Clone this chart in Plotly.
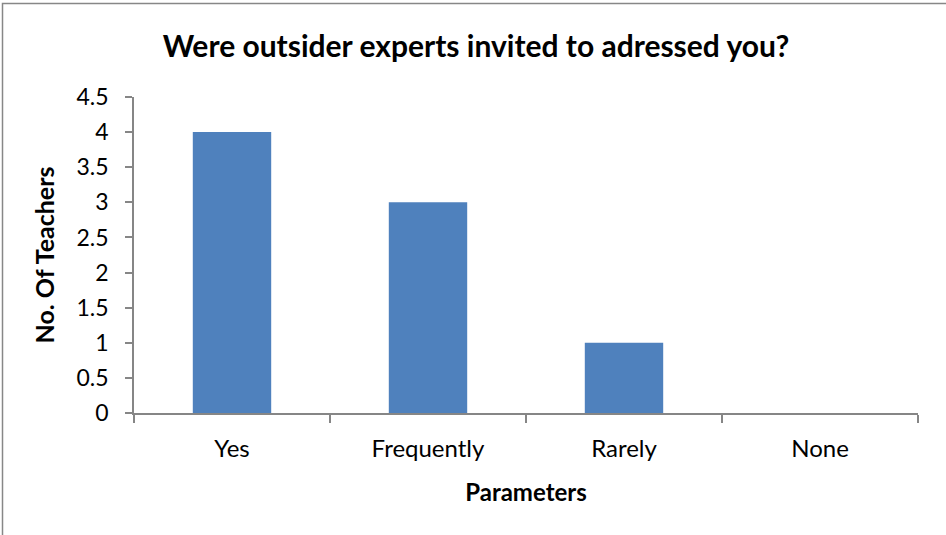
import plotly.graph_objects as go

categories = ["Yes", "Frequently", "Rarely", "None"]
teachers = [4, 3, 1, 0]
y_ticks = [0, 0.5, 1, 1.5, 2, 2.5, 3, 3.5, 4, 4.5]
y_tick_labels = ["0", "0.5", "1", "1.5", "2", "2.5", "3", "3.5", "4", "4.5"]

W, H = 946, 535
L, R, T, B = 134, 28, 97, 122
pw, ph = W - L - R, H - T - B

FONT = "Lato, 'Open Sans', sans-serif"
AXIS_COLOR = "#868686"

fig = go.Figure(go.Bar(
    x=categories, y=teachers,
    marker=dict(color="#4F81BD", line=dict(width=0)),
    width=0.4,
))

def px_to_paper_x(px):
    return (px - L) / pw

def px_to_paper_y(py):
    return (H - B - py) / ph

fig.update_layout(
    width=W, height=H,
    margin=dict(l=L, r=R, t=T, b=B),
    paper_bgcolor="white", plot_bgcolor="white",
    showlegend=False,
    title=dict(text="<b>Were outsider experts invited to adressed you?</b>",
               x=476 / W, xref="container", xanchor="center",
               y=1 - 46 / H, yref="container", yanchor="middle",
               font=dict(family=FONT, size=30, color="black")),
    font=dict(family=FONT, color="black"),
    xaxis=dict(
        type="category", range=[-0.5, 3.5],
        showline=True, linecolor=AXIS_COLOR, linewidth=1.5,
        ticks="outside", tickson="boundaries", ticklen=8, tickcolor=AXIS_COLOR, tickwidth=1.5,
        showgrid=False, zeroline=False,
        tickfont=dict(family=FONT, size=24, color="black"),
        ticklabelstandoff=13,
        title=dict(text="<b>Parameters</b>", font=dict(family=FONT, size=24, color="black"), standoff=24),
    ),
    yaxis=dict(
        range=[0, 4.5], tickvals=y_ticks, ticktext=y_tick_labels,
        showline=True, linecolor=AXIS_COLOR, linewidth=1.5,
        ticks="outside", ticklen=7, tickcolor=AXIS_COLOR, tickwidth=1.5,
        showgrid=False, zeroline=False,
        tickfont=dict(family=FONT, size=23, color="black"),
        ticklabelstandoff=12,
        title=dict(text="<b>No. Of Teachers</b>", font=dict(family=FONT, size=25, color="black"), standoff=15),
    ),
    bargap=0.6,
    shapes=[dict(
        type="rect", xref="paper", yref="paper",
        x0=px_to_paper_x(2.5), x1=px_to_paper_x(W + 20),
        y0=px_to_paper_y(H + 20), y1=px_to_paper_y(3.5),
        line=dict(color="#878787", width=1.5), fillcolor="rgba(0,0,0,0)", layer="below",
    )],
)

fig.write_html("out.html", config={"displayModeBar": False},
               post_script="document.body.style.margin='0';")
